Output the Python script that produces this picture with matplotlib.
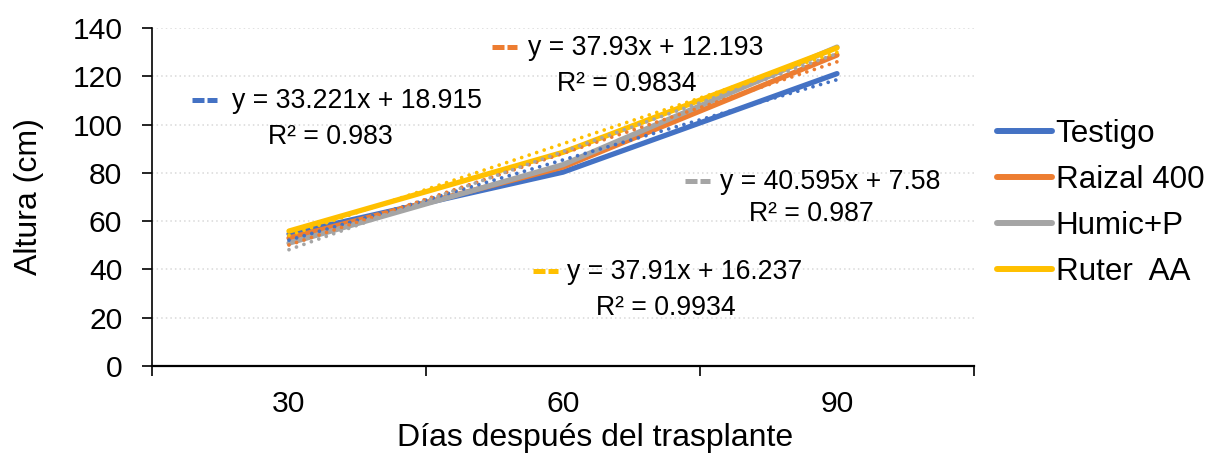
import numpy as np
import matplotlib
matplotlib.use("Agg")
import matplotlib.pyplot as plt
from matplotlib.ticker import FixedLocator, NullFormatter

plt.rcParams['font.family'] = ['Liberation Sans', 'DejaVu Sans']

# ----- datos -----
dias = ["30", "60", "90"]
series = ["Testigo", "Raizal 400", "Humic+P", "Ruter  AA"]
testigo = [54.7, 80.3, 121.1]
raizal = [53.0, 82.4, 128.8]
humic = [50.9, 83.4, 132.1]
ruter = [55.9, 88.5, 131.8]
valores = [testigo, raizal, humic, ruter]

# lineas de tendencia (x = 1, 2, 3)
pendientes = [33.221, 37.93, 40.595, 37.91]
interceptos = [18.915, 12.193, 7.58, 16.237]
r2 = ["0.983", "0.9834", "0.987", "0.9934"]
ecuaciones = ["y = 33.221x + 18.915", "y = 37.93x + 12.193",
              "y = 40.595x + 7.58", "y = 37.91x + 16.237"]

colores = ["#4472C4", "#ED7D31", "#A5A5A5", "#FFC000"]

# posicion de las etiquetas: (x clave, x texto, y linea 1, x centro R2, y linea 2)
pos_etq = [(0.646, 0.792, 109.7, 1.15, 95.0),
           (1.741, 1.872, 131.7, 2.234, 116.6),
           (2.445, 2.573, 76.2, 2.905, 63.0),
           (1.891, 2.015, 38.9, 2.376, 24.0)]

W, H = 1209, 455
fig = plt.figure(figsize=(W / 100, H / 100), dpi=100)
ax = fig.add_axes([152 / W, (H - 366) / H, (974 - 152) / W, (366 - 28) / H])

x = np.arange(1, len(dias) + 1)
for nombre, v, c in zip(series, valores, colores):
    ax.plot(x, v, color=c, lw=3.8, solid_capstyle='round', label=nombre, zorder=3)

xt = np.array([1, 3])
for a, b, c in zip(pendientes, interceptos, colores):
    ax.plot(xt, a * xt + b, color=c, lw=2.7, ls=(0, (0.01, 2.1)),
            dash_capstyle='round', zorder=4)

# etiquetas de las ecuaciones (clave "--" + texto)
for (xk, xe, y1, xr, y2), eq, r, c in zip(pos_etq, ecuaciones, r2, colores):
    ax.plot([xk, xk + 0.044], [y1 + 0.6] * 2, color=c, lw=3.6,
            solid_capstyle='butt', zorder=5)
    ax.plot([xk + 0.055, xk + 0.092], [y1 + 0.6] * 2, color=c, lw=3.6,
            solid_capstyle='butt', zorder=5)
    ax.text(xe, y1, eq, fontsize=19.2, ha='left', va='center', zorder=6)
    ax.text(xr, y2, "R² = " + r, fontsize=19.2, ha='center', va='center', zorder=6)

ax.set_xlim(0.5, 3.5)
ax.set_ylim(0, 140)
ax.set_yticks(np.arange(0, 141, 20))
ax.set_xticks(x)
ax.set_xticklabels(dias)
ax.xaxis.set_minor_locator(FixedLocator([0.5, 1.5, 2.5, 3.5]))
ax.xaxis.set_minor_formatter(NullFormatter())
ax.tick_params(axis='x', which='major', length=0, pad=17.3, labelsize=21.6)
ax.tick_params(axis='x', which='minor', length=7, width=1.2, direction='out')
ax.tick_params(axis='y', length=7, width=1.2, direction='out', pad=14.4, labelsize=21.6)

for g in np.arange(20, 141, 20):
    ax.axhline(g, color='#D9D9D9', lw=1.1, ls=(0, (1, 2)), zorder=1)

for s in ['top', 'right']:
    ax.spines[s].set_visible(False)
ax.spines['left'].set_linewidth(1.2)
ax.spines['bottom'].set_linewidth(1.6)

ax.set_ylabel("Altura (cm)", fontsize=23, labelpad=20)
ax.set_xlabel("Días después del trasplante", fontsize=23)
ax.xaxis.set_label_coords((595 - 152) / (974 - 152), -0.168)
ax.xaxis.label.set_va('top')

ax.legend(loc='center left', bbox_to_anchor=(997 / W, (H - 203) / H),
          bbox_transform=fig.transFigure, frameon=False, fontsize=22.6,
          handlelength=1.75, handletextpad=0.12, labelspacing=0.5,
          borderaxespad=0, borderpad=0)
for ln in ax.get_legend().get_lines():
    ln.set_linewidth(4.3)
    ln.set_solid_capstyle('round')

fig.savefig("out.png", dpi=100)
